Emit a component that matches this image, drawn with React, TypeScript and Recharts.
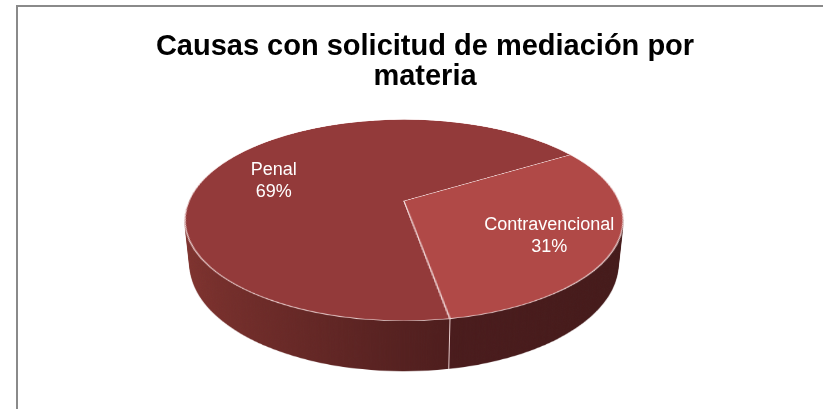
import React from 'react'
import { PieChart, Pie, Cell } from 'recharts'

const categories = ['Penal', 'Contravencional']
const values = [69, 31]
const titleLines = ['Causas con solicitud de mediación por', 'materia']

// top face colors, then side gradient stops (left -> right)
const topColors = ['#933a3a', '#b04947']
const sideStops = [
  ['#80332f', '#4d1d1d'],
  ['#4b1c1d', '#441a1a'],
]

const chartData = categories.map((name, i) => ({ name, value: values[i] }))
const total = values.reduce((a, b) => a + b, 0)

// fake 3D pie: flat recharts pies tilted with css perspective
const R = 215
const SIZE = R * 2
const PERSP = 1004
const TILT = 63.2
const DEPTH = 50
const CX = 404
const CY = 201
const START = 280
const FONT = '"Liberation Sans", Arial, sans-serif'

const rad = Math.PI / 180
const cosT = Math.cos(TILT * rad)
const sinT = Math.sin(TILT * rad)

// same math as the css transform, used to put flat marks on the tilted pie
function project(angle: number, r: number, depth = 0) {
  const x = r * Math.cos(angle * rad)
  const y = -r * Math.sin(angle * rad)
  const z = -depth
  const yy = y * cosT - z * sinT
  const zz = y * sinT + z * cosT
  const k = PERSP / (PERSP - zz)
  return { x: CX + x * k, y: CY + yy * k }
}

function Layer({ depth }: { depth: number }) {
  const side = depth > 0
  return (
    <div
      style={{
        position: 'absolute',
        left: CX - R,
        top: CY - R,
        width: SIZE,
        height: SIZE,
        transformOrigin: `${R}px ${R}px`,
        transform: `perspective(${PERSP}px) rotateX(${TILT}deg) translateZ(${-depth}px)`,
      }}
    >
      <PieChart width={SIZE} height={SIZE} margin={{ top: 0, right: 0, bottom: 0, left: 0 }}>
        {side && (
          <defs>
            {sideStops.map((s, i) => (
              <linearGradient
                key={i}
                id={`side${i}`}
                gradientUnits="userSpaceOnUse"
                x1={i === 0 ? 0 : R}
                x2={i === 0 ? R + 40 : SIZE}
                y1={0}
                y2={0}
              >
                <stop offset="0%" stopColor={s[0]} />
                <stop offset="100%" stopColor={s[1]} />
              </linearGradient>
            ))}
          </defs>
        )}
        <Pie
          data={chartData}
          dataKey="value"
          cx={R}
          cy={R}
          outerRadius={R}
          startAngle={START}
          endAngle={START - 360}
          stroke={side ? 'none' : '#f2dada'}
          strokeWidth={side ? 0 : 1.2}
          isAnimationActive={false}
        >
          {chartData.map((d, i) => (
            <Cell key={d.name} fill={side ? `url(#side${i})` : topColors[i]} />
          ))}
        </Pie>
      </PieChart>
    </div>
  )
}

const renderLabel = (props: any) => {
  const { midAngle, name, value } = props
  const p = project(midAngle, R * 0.7)
  const pct = `${Math.round((value / total) * 100)}%`
  return (
    <text
      x={p.x}
      y={p.y}
      fill="#ffffff"
      textAnchor="middle"
      style={{ fontFamily: FONT, fontSize: 18 }}
    >
      <tspan x={p.x} dy={0}>{name}</tspan>
      <tspan x={p.x} dy={22}>{pct}</tspan>
    </text>
  )
}

export default function App() {
  const layers: number[] = []
  for (let d = DEPTH; d >= 0; d--) layers.push(d)

  // front seam between the two slices (where the first slice starts), on the side wall
  const seamTop = project(START, R, 0)
  const seamBottom = project(START, R, DEPTH)

  return (
    <div
      style={{
        position: 'absolute',
        left: 0,
        top: 0,
        width: 823,
        height: 409,
        overflow: 'hidden',
        background: '#ffffff',
      }}
    >
      <div
        style={{
          position: 'absolute',
          left: 16,
          top: 5,
          width: 1000,
          height: 1000,
          border: '2px solid #8a8a8a',
        }}
      />
      {layers.map((d) => (
        <Layer key={d} depth={d} />
      ))}
      <div style={{ position: 'absolute', left: 0, top: 0 }}>
        <PieChart width={823} height={409} margin={{ top: 0, right: 0, bottom: 0, left: 0 }}>
          <Pie
            data={chartData}
            dataKey="value"
            cx={CX}
            cy={CY}
            outerRadius={R}
            startAngle={START}
            endAngle={START - 360}
            fill="none"
            fillOpacity={0}
            stroke="none"
            label={renderLabel}
            labelLine={false}
            isAnimationActive={false}
          />
        </PieChart>
      </div>
      <svg width={823} height={409} style={{ position: 'absolute', left: 0, top: 0 }}>
        <line
          x1={seamTop.x}
          y1={seamTop.y}
          x2={seamBottom.x}
          y2={seamBottom.y}
          stroke="#e8cccc"
          strokeWidth={1}
        />
        {titleLines.map((t, i) => (
          <text
            key={t}
            x={425}
            y={55 + i * 30}
            textAnchor="middle"
            fill="#000000"
            style={{ fontFamily: FONT, fontSize: 29, fontWeight: 'bold' }}
          >
            {t}
          </text>
        ))}
      </svg>
    </div>
  )
}
